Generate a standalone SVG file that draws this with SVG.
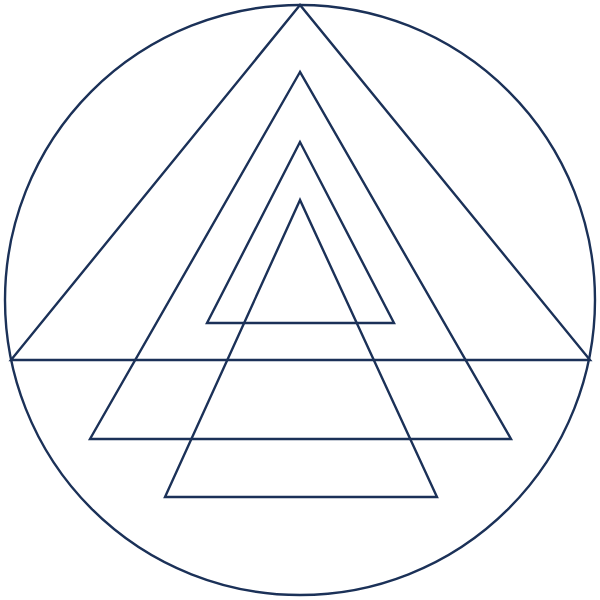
<svg xmlns="http://www.w3.org/2000/svg" width="600" height="600" viewBox="0 0 600 600">
<style>
.s{fill:none;stroke:#1b3158;stroke-width:2.4;stroke-linejoin:miter}
</style>
<rect width="600" height="600" fill="#ffffff"/>
<g id="circle"><circle class="s" cx="300" cy="300" r="295"/></g>
<g id="tri1"><polygon class="s" points="300,5 11,360 590,360"/></g>
<g id="tri2"><polygon class="s" points="300,72 90,439 511,439"/></g>
<g id="tri3"><polygon class="s" points="300,142 207,323 394,323"/></g>
<g id="tri4"><polygon class="s" points="300,200 165,497 437,497"/></g>
</svg>
